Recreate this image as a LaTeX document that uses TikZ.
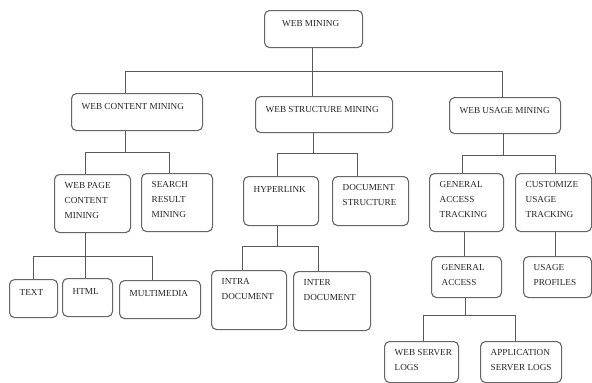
\documentclass[tikz,border=0pt]{standalone}
\usepackage{fontspec}
\setmainfont{Liberation Serif}
\begin{document}
\begin{tikzpicture}[x=1pt,y=-1pt,
  bx/.style={draw=black!60, line width=1.1pt, rounded corners=5pt, inner sep=0pt, anchor=north west, fill=white},
  txt/.style={anchor=north west, inner sep=0pt, align=left, text=black!85,
    font=\fontsize{9.2}{15}\selectfont, execute at begin node={\rule{0pt}{8pt}}},
  conn/.style={draw=black!65, line width=1pt}]
\useasboundingbox (0,0) rectangle (592,383);
\newcommand{\mkbox}[7][10.5]{\node[bx, minimum width=#5pt, minimum height=#6pt] (#2) at (#3,#4) {};
  \node[txt] (#2-label) at ([xshift=#1pt,yshift=-8.5pt]#2.north west) {#7};}
\mkbox[18]{wm}{264}{10}{98}{37}{WEB MINING}
\mkbox{wcm}{71}{93}{131}{37}{WEB CONTENT MINING}
\mkbox{wsm}{255}{96}{137}{36}{WEB STRUCTURE MINING}
\mkbox{wum}{449}{97}{111}{36}{WEB USAGE MINING}
\mkbox{wpcm}{54}{174}{76}{58}{WEB PAGE\\CONTENT\\MINING}
\mkbox{srm}{141}{173}{71}{58}{SEARCH\\RESULT\\MINING}
\mkbox{tx}{9}{279}{48}{38}{TEXT}
\mkbox{html}{62}{278}{50}{38}{HTML}
\mkbox{mm}{119}{280}{81}{38}{MULTIMEDIA}
\mkbox{hyp}{243}{176}{75}{49}{HYPERLINK}
\mkbox{ds}{332}{176}{76}{49}{DOCUMENT\\STRUCTURE}
\mkbox{intra}{211}{270}{75}{59}{INTRA\\DOCUMENT}
\mkbox{inter}{293}{271}{77}{59}{INTER\\DOCUMENT}
\mkbox{gat}{429}{173}{74}{58}{GENERAL\\ACCESS\\TRACKING}
\mkbox{cut}{515}{173}{76}{58}{CUSTOMIZE\\USAGE\\TRACKING}
\mkbox{gacc}{431}{256}{70}{41}{GENERAL\\ACCESS}
\mkbox{up}{523}{256}{68}{41}{USAGE\\PROFILES}
\mkbox{wsl}{384}{341}{74}{41}{WEB SERVER\\LOGS}
\mkbox{asl}{480}{341}{81}{41}{APPLICATION\\SERVER LOGS}
% junction points of the connectors
\coordinate (j0) at (312,71);
\coordinate (xwcm) at (125,0);
\coordinate (xwum) at (502,0);
\coordinate (j1) at (125,152);
\coordinate (xwpcm) at (85,0);
\coordinate (xsrm) at (169,0);
\coordinate (j2) at (85,256);
\coordinate (xtx) at (33,0);
\coordinate (xmm) at (152,0);
\coordinate (j3) at (313,153);
\coordinate (xhyp) at (277,0);
\coordinate (xds) at (357,0);
\coordinate (j4) at (277,246);
\coordinate (xintra) at (242,0);
\coordinate (xinter) at (318,0);
\coordinate (j5) at (503,155);
\coordinate (xgat) at (462,0);
\coordinate (xcut) at (555,0);
\coordinate (xga) at (464,0);
\coordinate (j6) at (465,315);
\coordinate (xwsl) at (423,0);
\coordinate (xasl) at (515,0);
% connectors
\draw[conn] (wm.south -| j0) -- (j0) -| (wcm.north -| xwcm);
\draw[conn] (j0) -- (wsm.north -| j0);
\draw[conn] (j0) -| (wum.north -| xwum);
\draw[conn] (wcm.south -| j1) -- (j1) -| (wpcm.north -| xwpcm);
\draw[conn] (j1) -| (srm.north -| xsrm);
\draw[conn] (wpcm.south -| j2) -- (j2) -| (tx.north -| xtx);
\draw[conn] (j2) -- (html.north -| j2);
\draw[conn] (j2) -| (mm.north -| xmm);
\draw[conn] (wsm.south -| j3) -- (j3) -| (hyp.north -| xhyp);
\draw[conn] (j3) -| (ds.north -| xds);
\draw[conn] (hyp.south -| j4) -- (j4) -| (intra.north -| xintra);
\draw[conn] (j4) -| (inter.north -| xinter);
\draw[conn] (wum.south -| j5) -- (j5) -| (gat.north -| xgat);
\draw[conn] (j5) -| (cut.north -| xcut);
\draw[conn] (gat.south -| xga) -- (gacc.north -| xga);
\draw[conn] (cut.south -| xcut) -- (up.north -| xcut);
\draw[conn] (gacc.south -| j6) -- (j6) -| (wsl.north -| xwsl);
\draw[conn] (j6) -| (asl.north -| xasl);
\end{tikzpicture}
\end{document}
